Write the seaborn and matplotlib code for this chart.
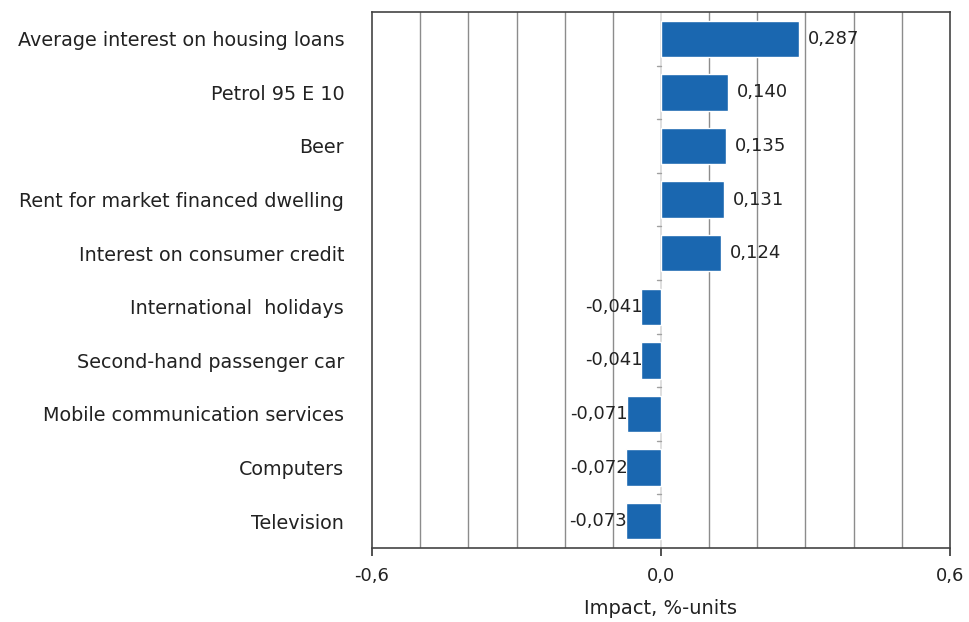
import numpy as np
import pandas as pd
import matplotlib
matplotlib.use("Agg")
import matplotlib.pyplot as plt
import seaborn as sns

categories = [
    "Average interest on housing loans",
    "Petrol 95 E 10",
    "Beer",
    "Rent for market financed dwelling",
    "Interest on consumer credit",
    "International  holidays",
    "Second-hand passenger car",
    "Mobile communication services",
    "Computers",
    "Television",
]
impact = [0.287, 0.140, 0.135, 0.131, 0.124, -0.041, -0.041, -0.071, -0.072, -0.073]
x_ticks = [-0.6, 0.0, 0.6]
x_tick_labels = ["-0,6", "0,0", "0,6"]

df = pd.DataFrame({"item": categories, "impact": impact})

sns.set_style("white")
plt.rcParams["font.family"] = ["DejaVu Sans"]

fig = plt.figure(figsize=(9.70, 6.22), dpi=100)
ax = fig.add_axes([372 / 970, 1 - 548 / 622, 578 / 970, 536 / 622])

sns.barplot(data=df, x="impact", y="item", color="#1a67b0", saturation=1,
            width=0.68, ax=ax, zorder=3)

ax.set_xlim(-0.6, 0.6)
ax.set_ylim(len(categories) - 0.5, -0.5)

# grid every 0.1
ax.set_xticks(np.arange(-0.5, 0.55, 0.1), minor=True)
ax.grid(axis="x", which="minor", color="#8c8c8c", linewidth=1, zorder=0)
ax.axvline(0, color="#d9d9d9", linewidth=1.2, zorder=2)
for i in range(len(categories) - 1):
    ax.plot([-0.008, 0], [i + 0.5, i + 0.5], color="#a0a0a0", linewidth=1, zorder=2)

ax.set_xticks(x_ticks)
ax.set_xticklabels(x_tick_labels)
ax.tick_params(axis="x", which="major", bottom=True, direction="out", length=6, width=1.2,
               color="#333333", labelsize=13, pad=8, labelcolor="#222222")
ax.tick_params(axis="x", which="minor", length=0)
ax.tick_params(axis="y", length=0, labelsize=13.8, pad=20, labelcolor="#222222")

for s in ax.spines.values():
    s.set_color("#444444")
    s.set_linewidth(1.2)

for i, v in enumerate(impact):
    txt = f"{v:.3f}".replace(".", ",")
    if v >= 0:
        ax.text(v + 0.018, i, txt, va="center", ha="left", fontsize=13, color="#222222", zorder=4)
    else:
        ax.text(v + 0.003, i, txt, va="center", ha="right", fontsize=13, color="#222222", zorder=4)

ax.set_ylabel("")
ax.set_xlabel("Impact, %-units", fontsize=14, color="#222222", labelpad=10)

fig.savefig("out.png", dpi=100)
